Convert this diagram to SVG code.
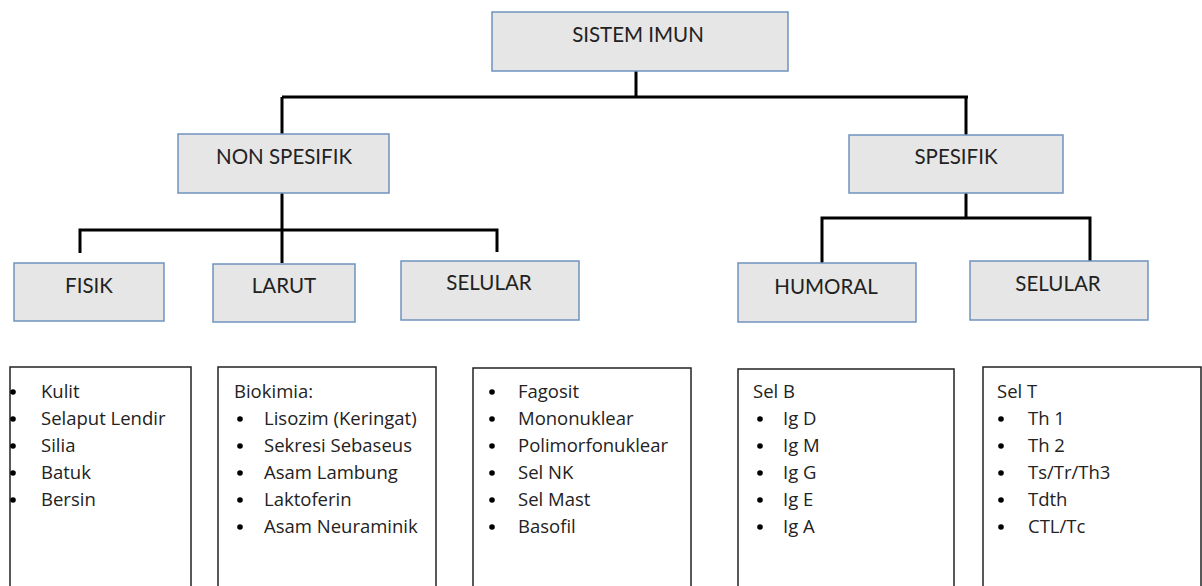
<svg xmlns="http://www.w3.org/2000/svg" width="1202" height="586" viewBox="0 0 1202 586">
<style>
.box{fill:#e6e6e6;stroke:#6f93bd;stroke-width:1.5}
.lbl{font-family:Lato,"Liberation Sans",sans-serif;font-size:20.5px;fill:#222;text-anchor:middle}
.conn{fill:none;stroke:#000;stroke-width:3}
.list{fill:#fff;stroke:#222;stroke-width:1.5}
.t{font-family:"Open Sans","Liberation Sans",sans-serif;font-size:18.5px;fill:#222}
.b{fill:#000}
</style>
<rect width="1202" height="586" fill="#fff"/>
<g id="connectors">
<path class="conn" d="M636 71V97M282 97H968M282 97V134M966 97V135"/>
<path class="conn" d="M282 193V263M80 253V230H497V252"/>
<path class="conn" d="M966 193V218M822 263V218H1090V261"/>
</g>
<g id="sistem-imun"><rect class="box" x="492" y="12" width="296" height="59"/><text class="lbl" x="638" y="42">SISTEM IMUN</text></g>
<g id="non-spesifik"><rect class="box" x="178" y="134" width="211" height="59"/><text class="lbl" x="284" y="164">NON SPESIFIK</text></g>
<g id="spesifik"><rect class="box" x="849" y="135" width="214" height="58"/><text class="lbl" x="956" y="164">SPESIFIK</text></g>
<g id="fisik"><rect class="box" x="14" y="263" width="150" height="58"/><text class="lbl" x="89" y="293">FISIK</text></g>
<g id="larut"><rect class="box" x="213" y="264" width="142" height="58"/><text class="lbl" x="284" y="293">LARUT</text></g>
<g id="selular-ns"><rect class="box" x="401" y="261" width="178" height="59"/><text class="lbl" x="489" y="290">SELULAR</text></g>
<g id="humoral"><rect class="box" x="738" y="263" width="178" height="59"/><text class="lbl" x="826" y="294">HUMORAL</text></g>
<g id="selular-s"><rect class="box" x="970" y="261" width="178" height="59"/><text class="lbl" x="1058" y="291">SELULAR</text></g>
<g id="list-fisik">
<rect class="list" x="10" y="367" width="181" height="225"/>
<g class="b"><circle cx="13" cy="392" r="2.8"/><circle cx="13" cy="419" r="2.8"/><circle cx="13" cy="446" r="2.8"/><circle cx="13" cy="473" r="2.8"/><circle cx="13" cy="500" r="2.8"/></g>
<text class="t" x="41" y="398">Kulit</text>
<text class="t" x="41" y="425">Selaput Lendir</text>
<text class="t" x="41" y="452">Silia</text>
<text class="t" x="41" y="479">Batuk</text>
<text class="t" x="41" y="506">Bersin</text>
</g>
<g id="list-larut">
<rect class="list" x="218" y="367" width="218" height="225"/>
<text class="t" x="234" y="398">Biokimia:</text>
<g class="b"><circle cx="240" cy="419" r="2.8"/><circle cx="240" cy="446" r="2.8"/><circle cx="240" cy="473" r="2.8"/><circle cx="240" cy="500" r="2.8"/><circle cx="240" cy="527" r="2.8"/></g>
<text class="t" x="264" y="425">Lisozim (Keringat)</text>
<text class="t" x="264" y="452">Sekresi Sebaseus</text>
<text class="t" x="264" y="479">Asam Lambung</text>
<text class="t" x="264" y="506">Laktoferin</text>
<text class="t" x="264" y="533">Asam Neuraminik</text>
</g>
<g id="list-selular-ns">
<rect class="list" x="473" y="368" width="218" height="225"/>
<g class="b"><circle cx="492" cy="392" r="2.8"/><circle cx="492" cy="419" r="2.8"/><circle cx="492" cy="446" r="2.8"/><circle cx="492" cy="473" r="2.8"/><circle cx="492" cy="500" r="2.8"/><circle cx="492" cy="527" r="2.8"/></g>
<text class="t" x="518" y="398">Fagosit</text>
<text class="t" x="518" y="425">Mononuklear</text>
<text class="t" x="518" y="452">Polimorfonuklear</text>
<text class="t" x="518" y="479">Sel NK</text>
<text class="t" x="518" y="506">Sel Mast</text>
<text class="t" x="518" y="533">Basofil</text>
</g>
<g id="list-humoral">
<rect class="list" x="738" y="369" width="216" height="225"/>
<text class="t" x="753" y="398">Sel B</text>
<g class="b"><circle cx="760" cy="419" r="2.8"/><circle cx="760" cy="446" r="2.8"/><circle cx="760" cy="473" r="2.8"/><circle cx="760" cy="500" r="2.8"/><circle cx="760" cy="527" r="2.8"/></g>
<text class="t" x="783" y="425">Ig D</text>
<text class="t" x="783" y="452">Ig M</text>
<text class="t" x="783" y="479">Ig G</text>
<text class="t" x="783" y="506">Ig E</text>
<text class="t" x="783" y="533">Ig A</text>
</g>
<g id="list-selular-s">
<rect class="list" x="983" y="367" width="218" height="225"/>
<text class="t" x="997" y="398">Sel T</text>
<g class="b"><circle cx="1001" cy="419" r="2.8"/><circle cx="1001" cy="446" r="2.8"/><circle cx="1001" cy="473" r="2.8"/><circle cx="1001" cy="500" r="2.8"/><circle cx="1001" cy="527" r="2.8"/></g>
<text class="t" x="1028" y="425">Th 1</text>
<text class="t" x="1028" y="452">Th 2</text>
<text class="t" x="1028" y="479">Ts/Tr/Th3</text>
<text class="t" x="1028" y="506">Tdth</text>
<text class="t" x="1028" y="533">CTL/Tc</text>
</g>
</svg>
